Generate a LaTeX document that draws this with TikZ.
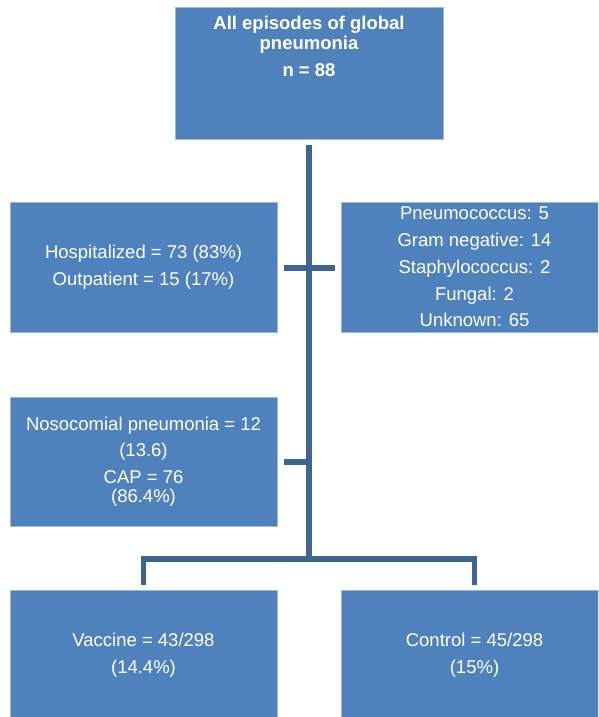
\documentclass[tikz,border=0pt]{standalone}
\usepackage{fontspec}
\setmainfont{Liberation Sans}
\usetikzlibrary{calc}
\definecolor{boxblue}{HTML}{4F81BD}
\definecolor{linkblue}{HTML}{3E6494}
\begin{document}
\begin{tikzpicture}[x=1pt,y=-1pt,
  box/.style={fill=boxblue, draw=boxblue!55!white, line width=1pt, text=white,
    align=center, inner sep=0pt, font=\fontsize{18.5}{27}\selectfont,
    minimum width=267pt, minimum height=130pt},
  link/.style={draw=linkblue, line width=5.5pt}]
\useasboundingbox (0,0) rectangle (598,717);
\clip (0,0) rectangle (598,717);
% boxes
\node[box, minimum width=268pt, minimum height=131pt,
  label={[anchor=north, inner sep=0pt, yshift=-8pt, text=white, align=center,
    font=\bfseries\fontsize{18.5}{20}\selectfont]north:All episodes of global\\pneumonia\\[7pt]n = 88}]
  (top) at (309,73.5) {};
\node[box] (hosp) at (143.5,267) {Hospitalized = 73 (83\%)\\Outpatient = 15 (17\%)};
\node[box, font=\fontsize{18.5}{26.75}\selectfont] (etio) at (474.5,267)
  {Pneumococcus: 5\\Gram negative: 14\\Staphylococcus: 2\\Fungal: 2\\Unknown: 65};
\node[box, minimum height=129pt, font=\fontsize{18.5}{26.5}\selectfont] (noso) at (143.5,461.5)
  {Nosocomial pneumonia = 12\\(13.6)\\CAP = 76\\[-7.5pt](86.4\%)};
\node[box] (vac) at (143.5,655) {Vaccine = 43/298\\(14.4\%)};
\node[box] (ctrl) at (474.5,655) {Control = 45/298\\(15\%)};
% connectors
\coordinate (j) at (309,559);
\draw[link] ($(top.south)+(0,5)$) -- (j);
\draw[link] ($(hosp.east)+(6,1)$) -- ($(etio.west)+(-6,1)$);
\draw[link] ($(noso.east)+(6,0.5)$) -- ($(noso.east -| j)+(0,0.5)$);
\draw[link] ($(vac.north)+(0,-5)$) |- (j) -| ($(ctrl.north)+(0,-5)$);
\end{tikzpicture}
\end{document}
